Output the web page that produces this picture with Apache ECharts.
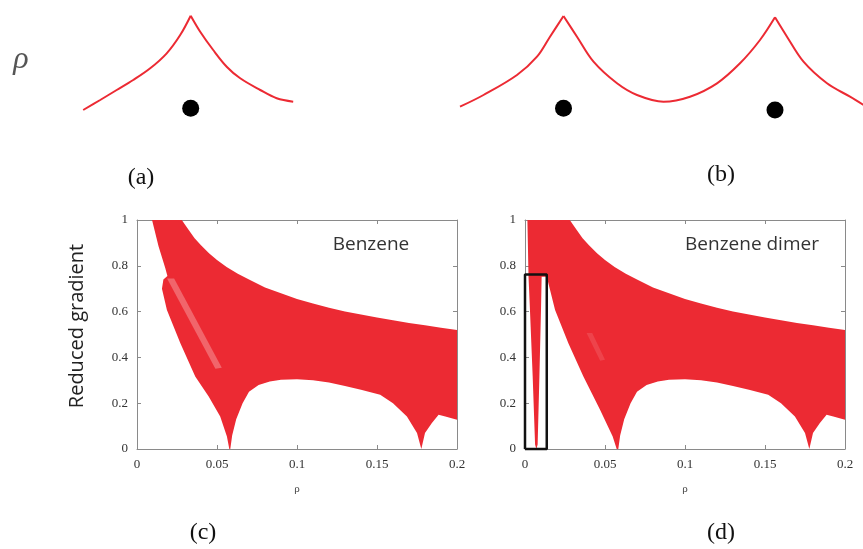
<!DOCTYPE html>
<html><head><meta charset="utf-8">
<script src="https://cdn.jsdelivr.net/npm/echarts@6/dist/echarts.min.js"></script>
<style>html,body{margin:0;padding:0;background:#fff}#c{width:863px;height:549px}</style>
</head><body><div id="c"></div>
<script>
// ---- Top panels: density profiles (x: distance, y: relative density) ----
const aLeft  = [[-2.15,0],[-1.81,0.10],[-1.48,0.20],[-1.15,0.30],[-0.81,0.417],[-0.48,0.567],[-0.21,0.75],[0,0.943]];
const aRight = [[0,0.943],[0.19,0.783],[0.45,0.60],[0.72,0.433],[0.99,0.317],[1.39,0.20],[1.72,0.117],[2.05,0.083]];
const aAtoms = [[0,0.017]];
const bSeg1 = [[-2.07,0.033],[-1.6,0.15],[-0.93,0.35],[-0.53,0.533],[-0.27,0.733],[0,0.94]];
const bSeg2 = [[0,0.94],[0.27,0.733],[0.6,0.483],[1.07,0.267],[1.47,0.15],[2.0,0.083],[2.53,0.133],[3.07,0.267],[3.53,0.467],[3.93,0.70],[4.23,0.927]];
const bSeg3 = [[4.23,0.927],[4.47,0.733],[4.8,0.483],[5.27,0.267],[5.73,0.133],[6.0,0.05]];
const bAtoms = [[0,0.017],[4.23,0.0]];

// ---- Bottom panels: reduced gradient vs rho, region outlines ----
const upperEdge = [[0.028,1],[0.032,0.96],[0.036,0.92],[0.04,0.89],[0.045,0.855],[0.05,0.825],[0.056,0.795],[0.063,0.765],[0.07,0.74],[0.08,0.705],[0.09,0.68],[0.1,0.655],[0.11,0.635],[0.12,0.617],[0.13,0.6],[0.14,0.587],[0.15,0.574],[0.16,0.562],[0.17,0.55],[0.18,0.54],[0.19,0.53],[0.2,0.52]];
const rightEdge = [[0.2,0.128],[0.1927,0.142],[0.1885,0.15],[0.1843,0.113],[0.18,0.07],[0.1777,0]];
const holeEdge = [[0.175,0.07],[0.1687,0.142],[0.16,0.2],[0.152,0.237],[0.14,0.259],[0.13,0.275],[0.12,0.29],[0.11,0.3],[0.1,0.305],[0.09,0.302],[0.083,0.295],[0.076,0.28],[0.07,0.25],[0.066,0.2],[0.062,0.13],[0.0595,0.06],[0.0583,0]];
const leftEdgeC = [[0.0577,0],[0.0562,0.055],[0.052,0.142],[0.0448,0.229],[0.0364,0.317],[0.0271,0.462],[0.0187,0.607],[0.0156,0.70],[0.0165,0.74],[0.019,0.755],[0.0177,0.789],[0.0135,0.884],[0.0094,1]];
const leftEdgeD = [[0.0573,0],[0.0548,0.055],[0.0469,0.171],[0.0365,0.317],[0.0271,0.462],[0.0188,0.607],[0.0136,0.752],[0.0104,0.752],[0.010,0.607],[0.009,0.317],[0.0079,0.02],[0.0071,0],[0.0063,0.02],[0.0048,0.317],[0.0031,0.607],[0.0022,0.752],[0.0015,1]];
const hatchC = [[0.0188,0.745],[0.0232,0.745],[0.053,0.355],[0.049,0.35]];
const hatchD = [[0.0385,0.507],[0.042,0.507],[0.05,0.39],[0.047,0.385]];
const boxD = [[0,0],[0,0.762],[0.0136,0.762],[0.0136,0],[0,0]];
const xTicks = ['0','0.05','0.1','0.15','0.2'];
const yTicks = ['0','0.2','0.4','0.6','0.8','1'];

const regionC = [].concat(upperEdge, rightEdge, holeEdge, leftEdgeC);
const regionD = [].concat(upperEdge, rightEdge, holeEdge, leftEdgeD);

const RED = '#ec2a33';
const chart = echarts.init(document.getElementById('c'), null, {renderer:'canvas'});

function polySeries(pts, xi, yi, fill){
  return {
    type:'custom', xAxisIndex:xi, yAxisIndex:yi, data:pts, clip:true, silent:true,
    renderItem:function(params, api){
      if (params.context.rendered) return;
      params.context.rendered = true;
      const p = pts.map(function(d){ return api.coord(d); });
      return {type:'polygon', shape:{points:p}, style:{fill:fill, stroke:null}};
    }
  };
}
function lineSeries(d, xi, yi){
  return {type:'line', xAxisIndex:xi, yAxisIndex:yi, data:d, showSymbol:false, smooth:0.35,
    lineStyle:{color:RED, width:2}, silent:true, animation:false};
}
const labelFont = {fontFamily:'Liberation Serif', fontSize:13, color:'#333'};
function mainX(gi){
  return {type:'value', gridIndex:gi, min:0, max:0.2, interval:0.05,
    axisLine:{show:true, onZero:false, lineStyle:{color:'#8a8a8a'}},
    axisTick:{show:true, inside:true, length:4, lineStyle:{color:'#8a8a8a'}},
    axisLabel:Object.assign({margin:9, formatter:function(v,i){return xTicks[i];}}, labelFont),
    splitLine:{show:false},
    name:'ρ', nameLocation:'middle', nameGap:35, nameTextStyle:{fontSize:11, color:'#444', fontFamily:'Liberation Serif'}};
}
function mirX(gi){
  return {type:'value', gridIndex:gi, position:'top', min:0, max:0.2, interval:0.05,
    axisLine:{show:true, onZero:false, lineStyle:{color:'#8a8a8a'}},
    axisTick:{show:true, inside:true, length:4, lineStyle:{color:'#8a8a8a'}},
    axisLabel:{show:false}, splitLine:{show:false}};
}
function mainY(gi){
  return {type:'value', gridIndex:gi, min:0, max:1, interval:0.2,
    axisLine:{show:true, onZero:false, lineStyle:{color:'#8a8a8a'}},
    axisTick:{show:true, inside:true, length:4, lineStyle:{color:'#8a8a8a'}},
    axisLabel:Object.assign({margin:9, formatter:function(v,i){return yTicks[i];}}, labelFont),
    splitLine:{show:false}};
}
function mirY(gi){
  return {type:'value', gridIndex:gi, position:'right', min:0, max:1, interval:0.2,
    axisLine:{show:true, onZero:false, lineStyle:{color:'#8a8a8a'}},
    axisTick:{show:true, inside:true, length:4, lineStyle:{color:'#8a8a8a'}},
    axisLabel:{show:false}, splitLine:{show:false}};
}

function txt(t, x, y, size, family, color, extra, rot){
  const o = {type:'text', x:x, y:y, silent:true, style:Object.assign({text:t, fontSize:size, fontFamily:family, fill:color,
    align:'center', verticalAlign:'middle', textAlign:'center', textVerticalAlign:'middle'}, extra||{})};
  if (rot) o.rotation = rot;
  return o;
}

const option = {
  animation:false,
  backgroundColor:'#fff',
  grid:[
    {left:83, top:10, width:211, height:100},
    {left:460, top:10, width:403, height:100},
    {left:137, top:220, width:320, height:229},
    {left:525, top:220, width:320, height:229}
  ],
  xAxis:[
    {type:'value', gridIndex:0, min:-2.154, max:2.066, show:false},
    {type:'value', gridIndex:1, min:-2.07, max:5.99, show:false},
    mainX(2), mainX(3), mirX(2), mirX(3)
  ],
  yAxis:[
    {type:'value', gridIndex:0, min:0, max:1, show:false},
    {type:'value', gridIndex:1, min:0, max:1, show:false},
    mainY(2), mainY(3), mirY(2), mirY(3)
  ],
  series:[
    lineSeries(aLeft,0,0), lineSeries(aRight,0,0),
    {type:'scatter', xAxisIndex:0, yAxisIndex:0, data:aAtoms, symbolSize:17, itemStyle:{color:'#000', opacity:1}, silent:true},
    lineSeries(bSeg1,1,1), lineSeries(bSeg2,1,1), lineSeries(bSeg3,1,1),
    {type:'scatter', xAxisIndex:1, yAxisIndex:1, data:bAtoms, symbolSize:17, itemStyle:{color:'#000', opacity:1}, silent:true},
    polySeries(regionC, 2, 2, RED),
    polySeries(hatchC, 2, 2, 'rgba(255,255,255,0.28)'),
    polySeries(regionD, 3, 3, RED),
    polySeries(hatchD, 3, 3, 'rgba(255,255,255,0.12)'),
    {type:'line', xAxisIndex:3, yAxisIndex:3, data:boxD, showSymbol:false, silent:true,
      lineStyle:{color:'#111', width:2.5}, clip:false}
  ],
  graphic:[
    txt('ρ', 21, 60, 32, 'Liberation Serif', '#555', {fontStyle:'italic'}),
    txt('(a)', 141, 178, 24, 'Liberation Serif', '#111'),
    txt('(b)', 721, 175, 24, 'Liberation Serif', '#111'),
    txt('(c)', 203, 533, 24, 'Liberation Serif', '#111'),
    txt('(d)', 721, 533, 24, 'Liberation Serif', '#111'),
    txt('Benzene', 371, 245, 19, 'Open Sans', '#333'),
    txt('Benzene dimer', 752, 245, 19, 'Open Sans', '#333'),
    txt('Reduced gradient', 77, 326, 20, 'Open Sans', '#222', null, Math.PI/2)
  ]
};
chart.setOption(option);
</script>
</body></html>
